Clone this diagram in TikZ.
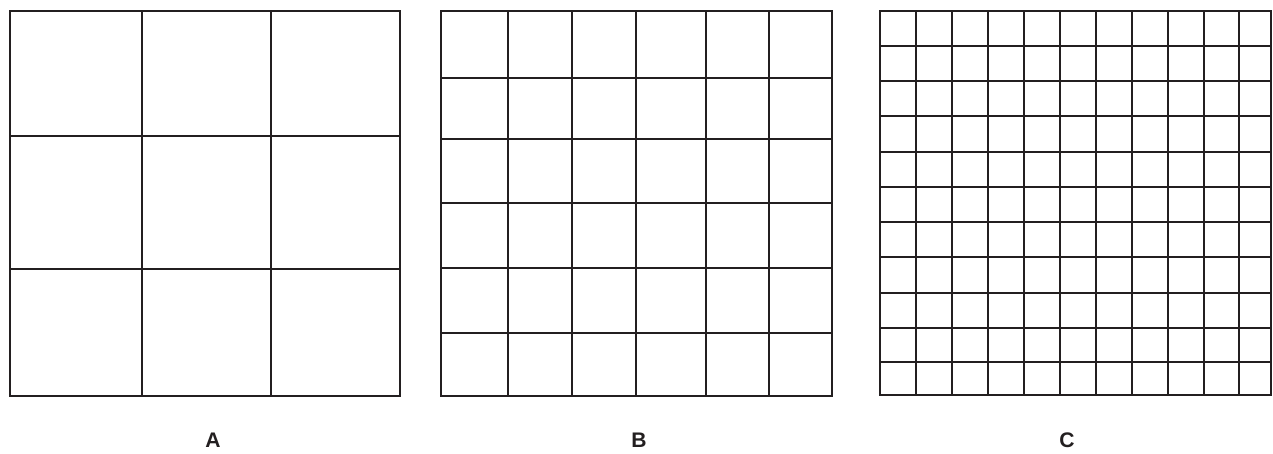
\documentclass[tikz,border=0pt]{standalone}
\usepackage{fontspec}
\setmainfont{Liberation Sans}
\usepackage{xcolor}
\usepackage{tikz}
\usetikzlibrary{positioning}
\definecolor{gridink}{HTML}{231F20}

\begin{document}
\begin{tikzpicture}[
  x=0.02cm, y=-0.02cm,
  gridline/.style={draw=gridink, line width=0.05cm, line cap=rect},
  caption/.style={font=\fontsize{12pt}{14pt}\selectfont\bfseries, text=gridink, inner sep=0pt}
]
  \useasboundingbox (0,0) rectangle (1273,453);

  % Grid A: 3 x 3
  \foreach \gx in {10,142,271,400} \draw[gridline] (\gx,11) -- (\gx,396);
  \foreach \gy in {11,136,269,396} \draw[gridline] (10,\gy) -- (400,\gy);

  % Grid B: 6 x 6
  \foreach \gx in {441,508,572,636,706,769,832} \draw[gridline] (\gx,11) -- (\gx,396);
  \foreach \gy in {11,78,139,203,268,333,396} \draw[gridline] (441,\gy) -- (832,\gy);

  % Grid C: 11 x 11
  \foreach \gx in {880,916,952,988,1024,1060,1096,1132,1168,1204,1239,1271} \draw[gridline] (\gx,11) -- (\gx,395);
  \foreach \gy in {11,46,81,116,152,187,222,257,293,328,362,395} \draw[gridline] (880,\gy) -- (1271,\gy);

  % Captions below the grids
  \node[caption] (capA) at (213,440) {A};
  \node[caption] (capB) at (639,440) {B};
  \node[caption] (capC) at (1067,440) {C};
\end{tikzpicture}
\end{document}
